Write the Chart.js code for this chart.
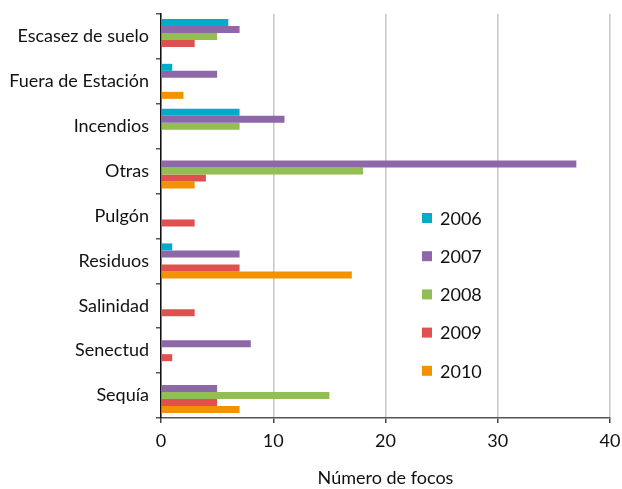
<!DOCTYPE html>
<html>
<head>
<meta charset="utf-8">
<script src="https://cdn.jsdelivr.net/npm/chart.js@4.4.1/dist/chart.umd.min.js"></script>
<style>
html,body{margin:0;padding:0;background:#fff;}
#wrap{width:622px;height:489px;position:relative;}
</style>
</head>
<body>
<div id="wrap"><canvas id="c" width="622" height="489"></canvas></div>
<script>
const categories = ["Escasez de suelo","Fuera de Estación","Incendios","Otras","Pulgón","Residuos","Salinidad","Senectud","Sequía"];
const seriesNames = ["2006","2007","2008","2009","2010"];
const v2006 = [6,1,7,0,0,1,0,0,0];
const v2007 = [7,5,11,37,0,7,0,8,5];
const v2008 = [5,0,7,18,0,0,0,0,15];
const v2009 = [3,0,0,4,3,7,3,1,5];
const v2010 = [0,2,0,3,0,17,0,0,7];
const xTicks = [0,10,20,30,40];
const axisTitle = "Número de focos";

const colors = ["#00acc8","#8d67a8","#92be53","#e0504e","#f39200"];
const FONT = "Lato";
const allValues = [v2006,v2007,v2008,v2009,v2010];

const legendPlugin = {
  id:'customLegend',
  afterDraw(chart){
    const ctx = chart.ctx;
    ctx.save();
    ctx.font = "18px " + FONT;
    ctx.textBaseline = "middle";
    ctx.textAlign = "left";
    chart.data.datasets.forEach((ds,i)=>{
      const y = 218 + i*38.2;
      ctx.fillStyle = ds.backgroundColor;
      ctx.fillRect(422, y-5, 10, 10);
      ctx.fillStyle = "#111";
      ctx.fillText(ds.label, 440, y+1);
    });
    ctx.restore();
  }
};

new Chart(document.getElementById('c'), {
  type:'bar',
  data:{
    labels: categories,
    datasets: seriesNames.map((n,i)=>({
      label:n, data:allValues[i], backgroundColor:colors[i],
      borderWidth:0, categoryPercentage:0.78, barPercentage:1.0
    }))
  },
  options:{
    indexAxis:'y',
    responsive:false,
    animation:false,
    layout:{padding:{top:14,right:12,left:0,bottom:0}},
    plugins:{legend:{display:false}, tooltip:{enabled:false}},
    scales:{
      x:{
        min:0,max:40,
        afterBuildTicks(scale){ scale.ticks = xTicks.map(v=>({value:v})); },
        grid:{color:"#c6c6c6", lineWidth:1.5, tickColor:"#444", tickLength:5, drawTicks:true},
        border:{display:true,color:"#555",width:1.5},
        ticks:{font:{family:FONT,size:18},color:"#111",padding:7},
        title:{display:true,text:axisTitle,font:{family:FONT,size:18},color:"#111",padding:{top:14,bottom:0}},
        afterFit(scale){ scale.height = 71; scale.paddingLeft = 0; scale.paddingRight = 0; }
      },
      y:{
        grid:{offset:true, drawOnChartArea:false, tickColor:"#555", tickLength:5, lineWidth:1.5},
        border:{display:true,color:"#111",width:1.5},
        ticks:{font:{family:FONT,size:18},color:"#111",padding:7},
        afterFit(scale){ scale.width = 161; scale.paddingTop = 0; scale.paddingBottom = 0; }
      }
    }
  },
  plugins:[legendPlugin]
});
</script>
</body>
</html>
